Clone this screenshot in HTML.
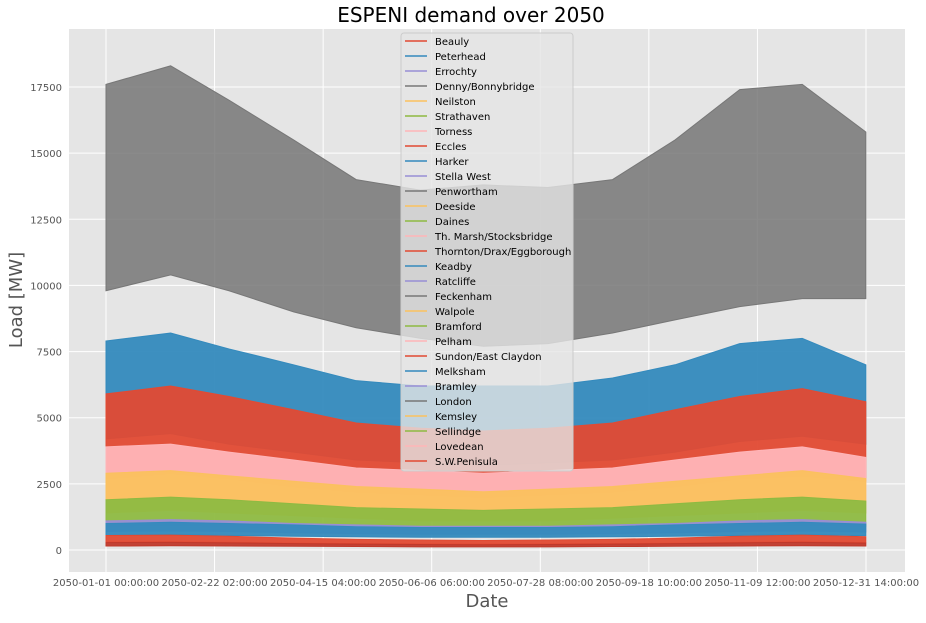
<!DOCTYPE html>
<html><head><meta charset="utf-8"><style>
body{margin:0;background:#fff;font-family:"Liberation Sans","DejaVu Sans",sans-serif}
svg text{font-family:"DejaVu Sans","Liberation Sans",sans-serif}
</style></head><body>
<svg id="c" width="926" height="618" xmlns="http://www.w3.org/2000/svg"></svg>
<script>
const sampleDays=[0,31,59,90,120,151,181,212,243,273,304,334,364.5];
const seriesNames=["Denny/Bonnybridge","Harker","Eccles","Torness","Neilston","Strathaven","Errochty","Peterhead","Beauly","S.W.Penisula"];
const greyMax=[17600,18300,17000,15500,14000,13600,13800,13700,14000,15500,17400,17600,15800];
const greyMin=[9800,10400,9800,9000,8400,8000,7700,7800,8200,8700,9200,9500,9500];
const blueMax=[7900,8200,7600,7000,6400,6200,6200,6200,6500,7000,7800,8000,7000];
const blueMin=[4200,4400,4000,3700,3400,3300,3200,3300,3400,3700,4100,4300,4000];
const redMax=[5900,6200,5800,5300,4800,4600,4500,4600,4800,5300,5800,6100,5600];
const redMin=[2700,2900,2700,2400,2200,2100,2000,2100,2200,2400,2700,2800,2600];
const pinkMax=[3900,4000,3700,3400,3100,3000,2900,3000,3100,3400,3700,3900,3500];
const pinkMin=[1900,2000,1900,1700,1600,1500,1500,1500,1600,1700,1900,2000,1800];
const yellowMax=[2900,3000,2800,2600,2400,2300,2200,2300,2400,2600,2800,3000,2700];
const yellowMin=[1400,1500,1400,1300,1200,1100,1100,1100,1200,1300,1400,1500,1400];
const greenMax=[1900,2000,1900,1750,1600,1550,1500,1550,1600,1750,1900,2000,1850];
const greenMin=[900,950,900,850,800,750,750,750,800,850,900,950,900];
const purpleMax=[1100,1150,1100,1000,950,900,900,900,950,1000,1100,1150,1050];
const purpleMin=[700,720,700,650,620,600,600,600,620,650,700,720,680];
const blue2Max=[1000,1050,1000,950,880,850,850,850,880,950,1000,1050,980];
const blue2Min=[550,580,550,520,500,480,480,480,500,520,550,580,540];
const red2Max=[550,560,520,450,400,380,360,380,400,450,520,560,500];
const red2Min=[300,310,290,260,240,230,220,230,240,260,290,310,280];
const red3Max=[280,290,270,240,220,210,200,210,220,240,270,290,260];
const red3Min=[150,160,150,140,130,120,120,120,130,140,150,160,150];
const yTicks=[0,2500,5000,7500,10000,12500,15000,17500];
const xTickDays=[0,52.083,104.167,156.25,208.333,260.417,312.5,364.583];
const xTickLabels=["2050-01-01 00:00:00","2050-02-22 02:00:00","2050-04-15 04:00:00","2050-06-06 06:00:00","2050-07-28 08:00:00","2050-09-18 10:00:00","2050-11-09 12:00:00","2050-12-31 14:00:00"];
const legendNames=["Beauly","Peterhead","Errochty","Denny/Bonnybridge","Neilston","Strathaven","Torness","Eccles","Harker","Stella West","Penwortham","Deeside","Daines","Th. Marsh/Stocksbridge","Thornton/Drax/Eggborough","Keadby","Ratcliffe","Feckenham","Walpole","Bramford","Pelham","Sundon/East Claydon","Melksham","Bramley","London","Kemsley","Sellindge","Lovedean","S.W.Penisula"];
const colors=["#E24A33","#348ABD","#988ED5","#777777","#FBC15E","#8EBA42","#FFB5B8"];

const NS="http://www.w3.org/2000/svg";
const svg=document.getElementById('c');
const L=69,R=905,T=29,B=572;
const xs=d=>106+d*(760/364.583);
const ys=v=>550-v*(463/17500);
function mk(tag,attrs,parent){const e=document.createElementNS(NS,tag);for(const k in attrs)e.setAttribute(k,attrs[k]);(parent||svg).appendChild(e);return e;}
let e=mk('rect',{x:L,y:T,width:R-L,height:B-T,fill:'#E5E5E5'});


yTicks.forEach(v=>{
  let g=mk('line',{x1:L,x2:R,y1:ys(v),y2:ys(v),stroke:'#fff','stroke-width':1});
  
  
  let t=mk('text',{x:62,y:ys(v)+4,'text-anchor':'end','font-size':10,fill:'#555'});t.textContent=v;
  
  
});
xTickDays.forEach((d,i)=>{
  let g=mk('line',{x1:xs(d),x2:xs(d),y1:T,y2:B,stroke:'#fff','stroke-width':1});
  
  
  let t=mk('text',{x:xs(d),y:586,'text-anchor':'middle','font-size':10,fill:'#555'});t.textContent=xTickLabels[i];
  
  
});
const bands=[[greyMax,greyMin,"#777777",0.85],[blueMax,blueMin,"#348ABD",0.95],[redMax,redMin,"#E24A33",0.95],[pinkMax,pinkMin,"#FFB5B8",0.95],[yellowMax,yellowMin,"#FBC15E",0.95],[greenMax,greenMin,"#8EBA42",0.95],[purpleMax,purpleMin,"#988ED5",0.95],[blue2Max,blue2Min,"#348ABD",0.95],[red2Max,red2Min,"#E24A33",0.95],[red3Max,red3Min,"#c0392b",0.95]];
bands.forEach((b,i)=>{
  let pts=sampleDays.map((d,j)=>xs(d)+','+ys(b[0][j]));
  for(let j=sampleDays.length-1;j>=0;j--)pts.push(xs(sampleDays[j])+','+ys(b[1][j]));
  let p=mk('polygon',{points:pts.join(' '),fill:b[2],stroke:b[2],'stroke-width':1,'fill-opacity':b[3]});
  
  
});
const lg=mk('g',{});


mk('rect',{x:401,y:33,width:172,height:438,fill:'#E5E5E5','fill-opacity':0.8,stroke:'#ccc',rx:3},lg);
legendNames.forEach((n,i)=>{
  const y=41+i*15;
  const c=colors[i%7];
  let ln=mk('line',{x1:405,x2:427,y1:y,y2:y,stroke:c,'stroke-width':1.5},lg);
  
  
  let t=mk('text',{x:435,y:y+4,'font-size':10,fill:'#000'},lg);t.textContent=n;
  
  
});
let tt=mk('text',{x:471,y:22,'text-anchor':'middle','font-size':20,fill:'#000'});tt.textContent='ESPENI demand over 2050';


let xl=mk('text',{x:487,y:607,'text-anchor':'middle','font-size':18,fill:'#555'});xl.textContent='Date';


let yl=mk('text',{x:22,y:300,'text-anchor':'middle','font-size':18,fill:'#555',transform:'rotate(-90 22 300)'});yl.textContent='Load [MW]';


</script>
</body></html>
